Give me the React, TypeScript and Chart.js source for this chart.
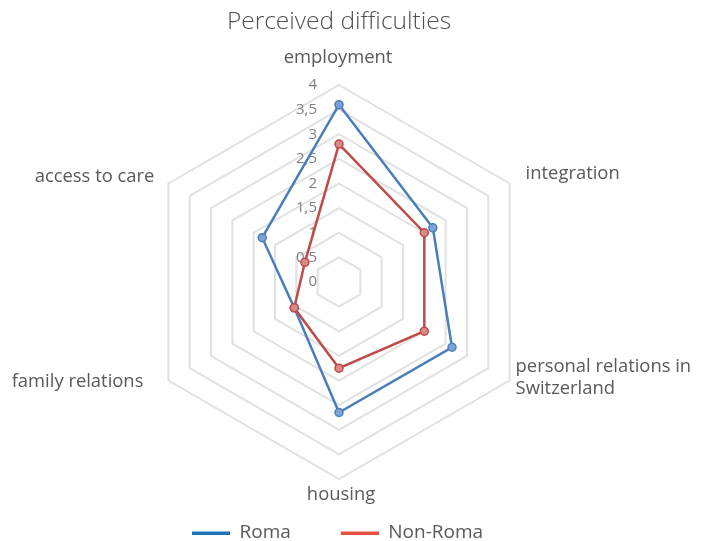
import React, { useEffect, useRef } from 'react';
import { Chart, registerables } from 'chart.js';

Chart.register(...registerables);

// ---- data ----
const categories: (string | string[])[] = [
  'employment',
  'integration',
  ['personal relations in', 'Switzerland'],
  'housing',
  'family relations',
  'access to care',
];
const seriesNames = ['Roma', 'Non-Roma'];
const romaValues = [3.6, 2.2, 2.65, 2.65, 1.05, 1.8];
const nonRomaValues = [2.8, 2.0, 2.0, 1.75, 1.05, 0.8];
const tickValues = [0, 0.5, 1, 1.5, 2, 2.5, 3, 3.5, 4];
const tickLabels = ['0', '0,5', '1', '1,5', '2', '2,5', '3', '3,5', '4'];

// ---- styles ----
const FONT = '"Open Sans", "Noto Sans", sans-serif';
const TEXT = '#595959';
const LINE_COLORS = ['#4a7ebb', '#be4b48'];
const POINT_FILLS = ['#7fa3d6', '#d98a86'];
const LEGEND_COLORS = ['#1b75bb', '#e6513d'];
// label offsets from the outer vertex of each axis [dx, dy]
const LABEL_OFFSETS = [
  [-1, -27],
  [16, -10],
  [6, -3],
  [2, 16],
  [-25, 1],
  [-14, -7],
];

function makeSwatch(color: string) {
  const c = document.createElement('canvas');
  c.width = 78;
  c.height = 4;
  const g = c.getContext('2d')!;
  g.fillStyle = color;
  g.fillRect(40, 1, 38, 3);
  return c;
}

const radarText = {
  id: 'radarText',
  beforeDatasetsDraw(chart: any) {
    const scale = chart.scales.r;
    const ctx = chart.ctx as CanvasRenderingContext2D;
    ctx.save();
    ctx.font = `15px ${FONT}`;
    ctx.fillStyle = '#7f7f7f';
    ctx.textAlign = 'right';
    ctx.textBaseline = 'middle';
    scale.ticks.forEach((t: any) => {
      const d = scale.getDistanceFromCenterForValue(t.value);
      ctx.fillText(t.label, scale.xCenter - 22, scale.yCenter - d);
    });
    ctx.font = `18.4px ${FONT}`;
    ctx.fillStyle = TEXT;
    const labels = chart.data.labels;
    for (let i = 0; i < labels.length; i++) {
      const p = scale.getPointPosition(i, scale.drawingArea);
      const [dx, dy] = LABEL_OFFSETS[i];
      const dxc = p.x - scale.xCenter;
      ctx.textAlign = Math.abs(dxc) < 1 ? 'center' : dxc > 0 ? 'left' : 'right';
      const lab = labels[i];
      const lines: string[] = Array.isArray(lab) ? lab : [lab];
      const lh = 22;
      const y0 = p.y + dy - ((lines.length - 1) * lh) / 2;
      lines.forEach((l, k) => ctx.fillText(l, p.x + dx, y0 + k * lh));
    }
    ctx.restore();
  },
};

export default function App() {
  const ref = useRef<HTMLCanvasElement>(null);

  useEffect(() => {
    if (!ref.current) return;
    const swatches = LEGEND_COLORS.map(makeSwatch);
    const chart = new Chart(ref.current, {
      type: 'radar',
      data: {
        labels: categories as any,
        datasets: [
          {
            label: seriesNames[0],
            data: romaValues,
            borderColor: LINE_COLORS[0],
            backgroundColor: LINE_COLORS[0],
            pointBackgroundColor: POINT_FILLS[0],
            pointBorderColor: LINE_COLORS[0],
            borderWidth: 2.5,
            pointRadius: 4,
            pointBorderWidth: 1.5,
            fill: false,
            order: 1,
          },
          {
            label: seriesNames[1],
            data: nonRomaValues,
            borderColor: LINE_COLORS[1],
            backgroundColor: LINE_COLORS[1],
            pointBackgroundColor: POINT_FILLS[1],
            pointBorderColor: LINE_COLORS[1],
            borderWidth: 2.5,
            pointRadius: 4,
            pointBorderWidth: 1.5,
            fill: false,
            order: 0,
          },
        ],
      },
      options: {
        responsive: false,
        animation: false,
        events: [],
        layout: { padding: { left: 142, right: 170, top: 0, bottom: 0 } },
        scales: {
          r: {
            min: 0,
            max: 4,
            ticks: {
              stepSize: 0.5,
              display: false,
              callback: (v: any) => {
                const i = tickValues.indexOf(Number(v));
                return i >= 0 ? tickLabels[i] : String(v);
              },
            },
            grid: { color: '#e1e1e1', lineWidth: 2 },
            angleLines: { display: false },
            pointLabels: { display: false },
          },
        },
        plugins: {
          title: {
            display: true,
            text: 'Perceived difficulties',
            color: '#505050',
            font: { family: FONT, size: 24.5, weight: '300' as any, lineHeight: 1.2 },
            padding: { top: 7, bottom: 14.6 },
          },
          legend: {
            display: true,
            position: 'bottom',
            align: 'start',
            labels: {
              usePointStyle: true,
              pointStyleWidth: 78,
              padding: 10,
              color: TEXT,
              font: { family: FONT, size: 19 },
              generateLabels: (c: any) =>
                c.data.datasets.map((ds: any, i: number) => ({
                  text: ds.label,
                  fillStyle: LEGEND_COLORS[i],
                  strokeStyle: LEGEND_COLORS[i],
                  lineWidth: 0,
                  pointStyle: swatches[i],
                  hidden: false,
                  datasetIndex: i,
                  fontColor: TEXT,
                })),
            },
          },
          tooltip: { enabled: false },
        },
      },
      plugins: [radarText],
    });
    return () => chart.destroy();
  }, []);

  return (
    <div style={{ position: 'absolute', left: 0, top: 0, width: 706, height: 541, overflow: 'hidden', background: '#fff' }}>
      <canvas ref={ref} width={706} height={552} style={{ display: 'block' }} />
    </div>
  );
}
